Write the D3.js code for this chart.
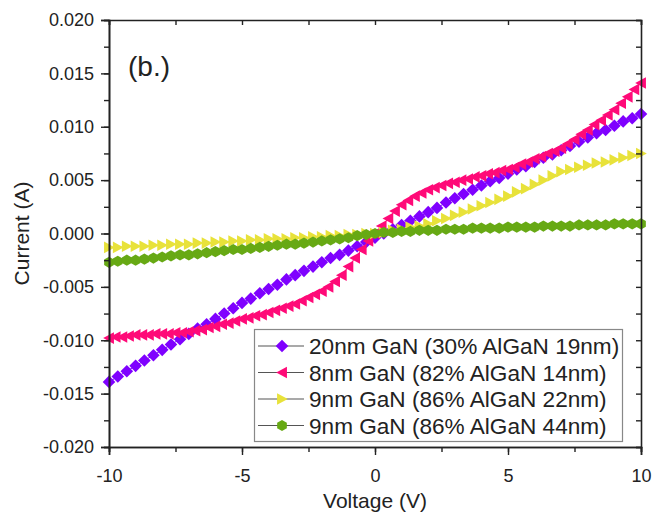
<!DOCTYPE html>
<html><head><meta charset="utf-8">
<script src="https://cdn.jsdelivr.net/npm/d3@7"></script>
<style>body{margin:0;background:#fff}svg{display:block}text{font-family:Arial,"Liberation Sans",sans-serif}</style>
</head><body><svg id="c" width="664" height="515"></svg>
<script>
const voltageA = [-10,-9.67,-9.33,-9,-8.67,-8.33,-8,-7.67,-7.33,-7,-6.67,-6.33,-6,-5.67,-5.33,-5,-4.67,-4.33,-4,-3.67,-3.33,-3,-2.67,-2.33,-2,-1.67,-1.33,-1,-0.67,-0.33,0,0.33,0.67,1,1.33,1.67,2,2.33,2.67,3,3.33,3.67,4,4.33,4.67,5,5.33,5.67,6,6.33,6.67,7,7.33,7.67,8,8.33,8.67,9,9.33,9.67,10];
const voltageB = [-10,-9.75,-9.5,-9.25,-9,-8.75,-8.5,-8.25,-8,-7.75,-7.5,-7.25,-7,-6.75,-6.5,-6.25,-6,-5.75,-5.5,-5.25,-5,-4.75,-4.5,-4.25,-4,-3.75,-3.5,-3.25,-3,-2.75,-2.5,-2.25,-2,-1.75,-1.5,-1.25,-1,-0.75,-0.5,-0.25,0,0.25,0.5,0.75,1,1.25,1.5,1.75,2,2.25,2.5,2.75,3,3.25,3.5,3.75,4,4.25,4.5,4.75,5,5.25,5.5,5.75,6,6.25,6.5,6.75,7,7.25,7.5,7.75,8,8.25,8.5,8.75,9,9.25,9.5,9.75,10];

const current20nm = [-0.0139,-0.0134,-0.0129,-0.0124,-0.0119,-0.0114,-0.0109,-0.0104,-0.0099,-0.0094,-0.0089,-0.0085,-0.0080,-0.0075,-0.0070,-0.0065,-0.0061,-0.0056,-0.0052,-0.0048,-0.0043,-0.0039,-0.0035,-0.0031,-0.0027,-0.0023,-0.0020,-0.0016,-0.0012,-0.0008,-0.0004,0.0000,0.0004,0.0008,0.0012,0.0016,0.0020,0.0024,0.0029,0.0033,0.0037,0.0041,0.0045,0.0049,0.0052,0.0056,0.0060,0.0063,0.0067,0.0071,0.0074,0.0078,0.0082,0.0086,0.0090,0.0094,0.0097,0.0101,0.0105,0.0108,0.0112];
const current8nm = [-0.0098,-0.0097,-0.0097,-0.0096,-0.0095,-0.0095,-0.0095,-0.0094,-0.0094,-0.0094,-0.0093,-0.0093,-0.0092,-0.0091,-0.0090,-0.0088,-0.0087,-0.0085,-0.0084,-0.0082,-0.0080,-0.0079,-0.0077,-0.0076,-0.0074,-0.0072,-0.0070,-0.0068,-0.0066,-0.0063,-0.0060,-0.0057,-0.0054,-0.0050,-0.0045,-0.0039,-0.0031,-0.0023,-0.0015,-0.0007,0.0000,0.0007,0.0014,0.0021,0.0027,0.0031,0.0035,0.0038,0.0041,0.0043,0.0045,0.0047,0.0048,0.0050,0.0051,0.0053,0.0054,0.0056,0.0057,0.0059,0.0060,0.0062,0.0065,0.0067,0.0070,0.0072,0.0075,0.0077,0.0080,0.0084,0.0088,0.0093,0.0097,0.0102,0.0106,0.0111,0.0116,0.0122,0.0128,0.0135,0.0141];
const current9nm22 = [-0.0013,-0.0013,-0.0012,-0.0012,-0.0012,-0.0011,-0.0011,-0.0010,-0.0010,-0.0010,-0.0009,-0.0009,-0.0008,-0.0008,-0.0007,-0.0007,-0.0006,-0.0006,-0.0005,-0.0005,-0.0005,-0.0004,-0.0004,-0.0003,-0.0003,-0.0002,-0.0002,-0.0001,-0.0001,0.0000,0.0000,0.0001,0.0003,0.0004,0.0006,0.0007,0.0009,0.0012,0.0014,0.0017,0.0020,0.0023,0.0026,0.0029,0.0032,0.0035,0.0039,0.0042,0.0046,0.0050,0.0054,0.0058,0.0060,0.0062,0.0064,0.0066,0.0067,0.0069,0.0071,0.0073,0.0075];
const current9nm44 = [-0.0027,-0.0026,-0.0025,-0.0025,-0.0024,-0.0023,-0.0022,-0.0021,-0.0020,-0.0020,-0.0019,-0.0018,-0.0017,-0.0016,-0.0015,-0.0015,-0.0014,-0.0013,-0.0012,-0.0011,-0.0010,-0.0010,-0.0009,-0.0008,-0.0007,-0.0006,-0.0005,-0.0004,-0.0002,-0.0001,0.0000,0.0001,0.0001,0.0002,0.0002,0.0003,0.0003,0.0003,0.0004,0.0004,0.0004,0.0005,0.0005,0.0005,0.0005,0.0006,0.0006,0.0006,0.0006,0.0007,0.0007,0.0007,0.0007,0.0008,0.0008,0.0008,0.0008,0.0009,0.0009,0.0009,0.0009];

const seriesNames = ["20nm GaN (30% AlGaN 19nm)","8nm GaN (82% AlGaN 14nm)","9nm GaN (86% AlGaN 22nm)","9nm GaN (86% AlGaN 44nm)"];
const seriesColors = ["#7f00ff","#ff0a78","#e8e23a","#67a914"];
const seriesShapes = ["diamond","triLeft","triRight","hexagon"];
const xTicks = [-10,-5,0,5,10];
const yTicks = [-0.020,-0.015,-0.010,-0.005,0.000,0.005,0.010,0.015,0.020];

const series = [
  {v: voltageA, i: current20nm},
  {v: voltageB, i: current8nm},
  {v: voltageA, i: current9nm22},
  {v: voltageA, i: current9nm44}
];

const W = 664, H = 515;
const m = {l:109, r:23, t:20, b:68};
const svg = d3.select("#c");
const x = d3.scaleLinear().domain([-10,10]).range([m.l, W-m.r]);
const y = d3.scaleLinear().domain([-0.02,0.02]).range([H-m.b, m.t]);

function shapePath(s, r){
  if(s==="diamond") return `M0,${-r}L${r},0L0,${r}L${-r},0Z`;
  if(s==="triLeft") return `M${-r},0L${r*0.85},${-r}L${r*0.85},${r}Z`;
  if(s==="triRight") return `M${r},0L${-r*0.85},${-r}L${-r*0.85},${r}Z`;
  const pts=[];for(let k=0;k<6;k++){const a=Math.PI/3*k+Math.PI/6;pts.push([r*Math.cos(a),r*Math.sin(a)]);}
  return "M"+pts.map(p=>p[0].toFixed(2)+","+p[1].toFixed(2)).join("L")+"Z";
}
const sizes = [6.3,5.8,5.8,5.6];

const plot = svg.append("g");
series.forEach((s,idx)=>{
  const pts = s.v.map((vv,k)=>[vv, s.i[k]]);
  plot.append("path").datum(pts)
    .attr("d", d3.line().x(d=>x(d[0])).y(d=>y(d[1])))
    .attr("fill","none").attr("stroke",seriesColors[idx]).attr("stroke-width",1);
  plot.append("g").selectAll("path").data(pts).join("path")
    .attr("transform", d=>`translate(${x(d[0])},${y(d[1])})`)
    .attr("d", shapePath(seriesShapes[idx], sizes[idx]))
    .attr("fill", seriesColors[idx]);
});

// axes
const minorX = d3.range(-10,10.01,2.5);
const minorY = d3.range(-0.02,0.0201,0.0025);
const fmt = d3.format(".3f");
const fixMinus = s => s.replace(/\u2212/g,"-");
const gB = svg.append("g").attr("transform",`translate(0,${H-m.b})`)
  .call(d3.axisBottom(x).tickValues(minorX).tickSize(5).tickFormat(""));
const gB2 = svg.append("g").attr("transform",`translate(0,${H-m.b})`)
  .call(d3.axisBottom(x).tickValues(xTicks).tickSize(8).tickPadding(14).tickFormat(d=>fixMinus(String(d))));
const gL = svg.append("g").attr("transform",`translate(${m.l},0)`)
  .call(d3.axisLeft(y).tickValues(minorY).tickSize(5).tickFormat(""));
const gL2 = svg.append("g").attr("transform",`translate(${m.l},0)`)
  .call(d3.axisLeft(y).tickValues(yTicks).tickSize(8).tickPadding(7).tickFormat(d=>Math.abs(d)<1e-9?"0.000":fixMinus(fmt(d))));
const gT = svg.append("g").attr("transform",`translate(0,${m.t})`)
  .call(d3.axisBottom(x).tickValues(minorX).tickSize(5).tickFormat(""));
const gR = svg.append("g").attr("transform",`translate(${W-m.r},0)`)
  .call(d3.axisLeft(y).tickValues(minorY).tickSize(5).tickFormat(""));
[gB,gB2,gL,gL2,gT,gR].forEach(g=>{
  g.select(".domain").attr("stroke","#222").attr("stroke-width",1.6);
  g.selectAll(".tick line").attr("stroke","#222").attr("stroke-width",1.4);
  g.selectAll(".tick text").attr("fill","#222").style("font-size","18px").style("font-family","Arial, 'Liberation Sans', sans-serif");
});

// axis titles
svg.append("text").attr("x",(m.l+W-m.r)/2).attr("y",508).attr("text-anchor","middle")
  .attr("fill","#222").style("font-size","21px").text("Voltage (V)");
svg.append("text").attr("transform",`translate(29,${(m.t+H-m.b)/2}) rotate(-90)`).attr("text-anchor","middle")
  .attr("fill","#222").style("font-size","21px").text("Current (A)");
svg.append("text").attr("x",128).attr("y",76).attr("fill","#222").style("font-size","28px").text("(b.)");

// legend
const lg = svg.append("g");
lg.append("rect").attr("x",254.5).attr("y",329.5).attr("width",368).attr("height",112)
  .attr("fill","#fff").attr("stroke","#888").attr("stroke-width",1.2);
seriesNames.forEach((n,idx)=>{
  const cy = 346 + idx*26.5;
  lg.append("line").attr("x1",258).attr("x2",304).attr("y1",cy).attr("y2",cy).attr("stroke","#555").attr("stroke-width",1.2);
  lg.append("path").attr("transform",`translate(282,${cy})`).attr("d",shapePath(seriesShapes[idx],sizes[idx])).attr("fill",seriesColors[idx]);
  lg.append("text").attr("x",309).attr("y",cy+8).attr("fill","#222").style("font-size","22.6px").text(n);
});
</script></body></html>
